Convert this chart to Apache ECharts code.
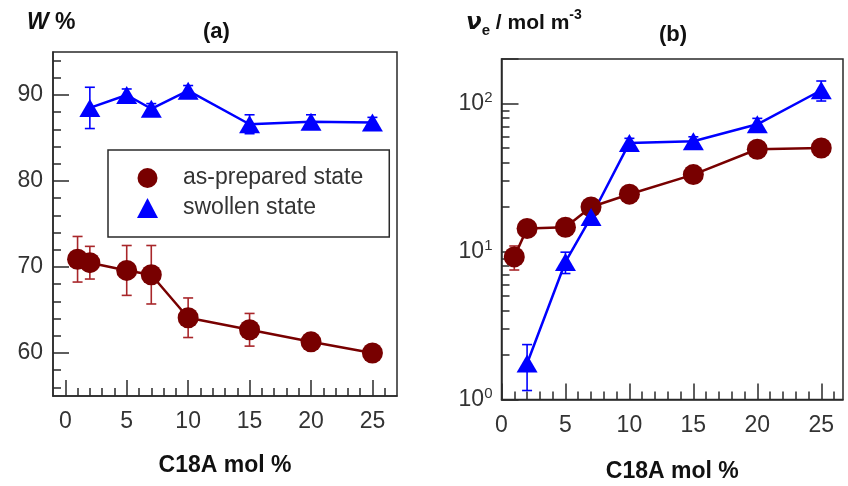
<!DOCTYPE html>
<html>
<head>
<meta charset="utf-8">
<script src="https://cdn.jsdelivr.net/npm/echarts@6/dist/echarts.min.js"></script>
<style>
  html, body { margin: 0; padding: 0; background: #fff; }
  #chart { width: 848px; height: 486px; }
</style>
</head>
<body>
<div id="chart"></div>
<script>
// C18A content (mol %)
const xPrepared = [1, 2, 5, 7, 10, 15, 20, 25];
const xSwollen = [2, 5, 7, 10, 15, 20, 25];

// (a) water content W %
const wPrepared = [70.9, 70.5, 69.6, 69.1, 64.1, 62.7, 61.3, 60.0];
const wPreparedErr = [2.65, 1.9, 2.9, 3.4, 2.3, 1.9, 0.5, 0.5];
const wSwollen = [88.5, 90.0, 88.4, 90.5, 86.6, 86.9, 86.8];
const wSwollenErr = [2.4, 0.7, 0.6, 0.6, 1.1, 0.8, 0.6];

// (b) crosslink density ve / mol m-3
const nuPrepared = [9.2, 14.3, 14.6, 20.0, 24.4, 33.1, 49.1, 50.1];
const nuPreparedErr = [1.7, 1.0, 1.0, 1.2, 1.5, 2.0, 3.0, 3.0];
const nuSwollen = [1.75, 8.5, 17.1, 54.2, 55.6, 72.4, 123];
const nuSwollenErr = [0.6, 1.4, 1.5, 4, 4, 7, 19];

// ticks
const xMajor = [0, 5, 10, 15, 20, 25];
const xMinor = [1, 2, 3, 4, 6, 7, 8, 9, 11, 12, 13, 14, 16, 17, 18, 19, 21, 22, 23, 24, 26];
const wMajor = [60, 70, 80, 90];
const wMinor = [56, 58, 62, 64, 66, 68, 72, 74, 76, 78, 82, 84, 86, 88, 92, 94];
const nuMinor = [2, 3, 4, 5, 6, 7, 8, 9, 20, 30, 40, 50, 60, 70, 80, 90];

const RED = '#780000';
const RED_ERR = '#a8262a';
const BLUE = '#0000ff';
const FRAME = '#2a2a2a';
const FONT = 'Liberation Sans';

const chart = echarts.init(document.getElementById('chart'));

function pairs(xs, ys) {
    return xs.map((x, i) => [x, ys[i]]);
}

function errorSeries(name, xs, ys, errs, color, gi) {
    return {
        name: name,
        type: 'custom',
        xAxisIndex: gi * 2,
        yAxisIndex: gi * 2,
        z: 1,
        silent: true,
        data: xs.map((x, i) => [x, ys[i], errs[i]]),
        encode: { x: 0, y: 1 },
        renderItem: (params, api) => {
            const x = api.value(0), y = api.value(1), e = api.value(2);
            const top = api.coord([x, y + e]);
            const bot = api.coord([x, y - e]);
            const w = 5;
            const style = { stroke: color, lineWidth: 1.6, fill: null };
            return {
                type: 'group',
                children: [
                    { type: 'line', shape: { x1: top[0], y1: top[1], x2: bot[0], y2: bot[1] }, style: style },
                    { type: 'line', shape: { x1: top[0] - w, y1: top[1], x2: top[0] + w, y2: top[1] }, style: style },
                    { type: 'line', shape: { x1: bot[0] - w, y1: bot[1], x2: bot[0] + w, y2: bot[1] }, style: style }
                ]
            };
        }
    };
}

const tickLabel = { color: '#333', fontFamily: FONT, fontSize: 23 };
const axisNameStyle = { color: '#111', fontFamily: FONT, fontSize: 23, fontWeight: 'bold' };
const frameLine = { onZero: false, lineStyle: { color: FRAME, width: 1.5 } };
const noLine = { show: false, onZero: false };

function xAxes(gi, min, max, margin, gap) {
    return [
        {
            type: 'value', gridIndex: gi, min: min, max: max, position: 'bottom',
            name: 'C18A mol %', nameLocation: 'middle', nameGap: gap, nameTextStyle: axisNameStyle,
            axisLine: frameLine,
            axisTick: { inside: true, length: 16, customValues: xMajor, lineStyle: { color: FRAME, width: 1.5 } },
            axisLabel: Object.assign({ customValues: xMajor, margin: margin }, tickLabel),
            splitLine: { show: false }
        },
        {
            type: 'value', gridIndex: gi, min: min, max: max, position: 'bottom',
            axisLine: noLine,
            axisTick: { inside: true, length: 8, customValues: xMinor, lineStyle: { color: FRAME, width: 1.5 } },
            axisLabel: { show: false },
            splitLine: { show: false }
        }
    ];
}

const option = {
    animation: false,
    backgroundColor: '#fff',
    title: [
        { text: '(a)', left: 203, top: 21, padding: 0, textStyle: { fontFamily: FONT, fontSize: 22, fontWeight: 'bold', color: '#111' } },
        { text: '(b)', left: 659, top: 24, padding: 0, textStyle: { fontFamily: FONT, fontSize: 22, fontWeight: 'bold', color: '#111' } },
        {
            text: '{w|W}{p| %}', left: 27, top: 9, padding: 0,
            textStyle: {
                rich: {
                    w: { fontFamily: FONT, fontSize: 23, fontWeight: 'bold', fontStyle: 'italic', color: '#111', lineHeight: 28 },
                    p: { fontFamily: FONT, fontSize: 23, color: '#111', lineHeight: 28 }
                }
            }
        },
        {
            text: '{v|ν}{sub|e}{n| / mol m}{sup|-3}', left: 466, top: 8, padding: 0,
            textStyle: {
                rich: {
                    v: { fontFamily: 'DejaVu Sans', fontSize: 23, fontWeight: 'bold', fontStyle: 'italic', color: '#111', lineHeight: 30 },
                    sub: { fontFamily: FONT, fontSize: 15, color: '#111', verticalAlign: 'bottom', lineHeight: 14 },
                    n: { fontFamily: FONT, fontSize: 21, fontWeight: 'bold', color: '#111', lineHeight: 30 },
                    sup: { fontFamily: FONT, fontSize: 14, color: '#111', verticalAlign: 'top', lineHeight: 14 }
                }
            }
        }
    ],
    legend: {
        data: [
            { name: 'as-prepared state', icon: 'circle' },
            { name: 'swollen state', icon: 'triangle' }
        ],
        orient: 'vertical',
        align: 'left',
        left: 108,
        top: 150,
        padding: [13, 26, 14, 29],
        itemGap: 0,
        itemWidth: 21,
        itemHeight: 20,
        backgroundColor: '#fff',
        borderColor: FRAME,
        borderWidth: 1.5,
        borderRadius: 0,
        textStyle: { fontFamily: FONT, fontSize: 23, color: '#333', lineHeight: 30, padding: [0, 0, 0, 20] }
    },
    grid: [
        { left: 53, top: 52, width: 344, height: 344, show: true, borderColor: FRAME, borderWidth: 1.5, outerBoundsMode: 'none' },
        { left: 501.5, top: 59, width: 341.5, height: 340.5, show: true, borderColor: FRAME, borderWidth: 1.5, outerBoundsMode: 'none' }
    ],
    xAxis: [].concat(xAxes(0, -1, 27, 14, 58), xAxes(1, 0, 26.7, 15, 61)),
    yAxis: [
        {
            type: 'value', gridIndex: 0, min: 55, max: 95, position: 'left',
            axisLine: frameLine,
            axisTick: { inside: true, length: 16, customValues: wMajor, lineStyle: { color: FRAME, width: 1.5 } },
            axisLabel: Object.assign({ customValues: wMajor, margin: 10 }, tickLabel),
            splitLine: { show: false }
        },
        {
            type: 'value', gridIndex: 0, min: 55, max: 95, position: 'left',
            axisLine: noLine,
            axisTick: { inside: true, length: 8, customValues: wMinor, lineStyle: { color: FRAME, width: 1.5 } },
            axisLabel: { show: false },
            splitLine: { show: false }
        },
        {
            type: 'log', logBase: 10, gridIndex: 1, min: 1, max: 200, position: 'left',
            axisLine: frameLine,
            axisTick: { inside: true, length: 17, lineStyle: { color: FRAME, width: 1.5 } },
            axisLabel: {
                margin: 9,
                formatter: (v) => {
                    const e = Math.log10(v);
                    if (Math.abs(e - Math.round(e)) > 1e-6) return '';
                    return '{b|10}{s|' + Math.round(e) + '}';
                },
                rich: {
                    b: { fontFamily: FONT, fontSize: 23, color: '#333', lineHeight: 26 },
                    s: { fontFamily: FONT, fontSize: 15, color: '#333', verticalAlign: 'top', lineHeight: 14 }
                }
            },
            splitLine: { show: false }
        },
        {
            // minor ticks of the log axis, placed on the same log scale
            type: 'log', logBase: 10, gridIndex: 1, min: 1, max: 200, position: 'left',
            axisLine: noLine,
            axisTick: { inside: true, length: 8, customValues: nuMinor, lineStyle: { color: FRAME, width: 1.5 } },
            axisLabel: { show: false },
            splitLine: { show: false }
        }
    ],
    series: [
        errorSeries('errA1', xPrepared, wPrepared, wPreparedErr, RED_ERR, 0),
        errorSeries('errA2', xSwollen, wSwollen, wSwollenErr, BLUE, 0),
        errorSeries('errB1', xPrepared, nuPrepared, nuPreparedErr, RED_ERR, 1),
        errorSeries('errB2', xSwollen, nuSwollen, nuSwollenErr, BLUE, 1),
        {
            name: 'as-prepared state', type: 'line', xAxisIndex: 0, yAxisIndex: 0,
            data: pairs(xPrepared, wPrepared), symbol: 'circle', symbolSize: 21,
            lineStyle: { color: RED, width: 2.5 }, itemStyle: { color: RED }
        },
        {
            name: 'swollen state', type: 'line', xAxisIndex: 0, yAxisIndex: 0,
            data: pairs(xSwollen, wSwollen), symbol: 'triangle', symbolSize: [21, 18],
            lineStyle: { color: BLUE, width: 2.5 }, itemStyle: { color: BLUE }
        },
        {
            name: 'as-prepared state', type: 'line', xAxisIndex: 2, yAxisIndex: 2,
            data: pairs(xPrepared, nuPrepared), symbol: 'circle', symbolSize: 21,
            lineStyle: { color: RED, width: 2.5 }, itemStyle: { color: RED }
        },
        {
            name: 'swollen state', type: 'line', xAxisIndex: 2, yAxisIndex: 2,
            data: pairs(xSwollen, nuSwollen), symbol: 'triangle', symbolSize: [21, 18],
            lineStyle: { color: BLUE, width: 2.5 }, itemStyle: { color: BLUE }
        }
    ]
};
chart.setOption(option);

window.addEventListener('resize', () => chart.resize());
</script>
</body>
</html>
